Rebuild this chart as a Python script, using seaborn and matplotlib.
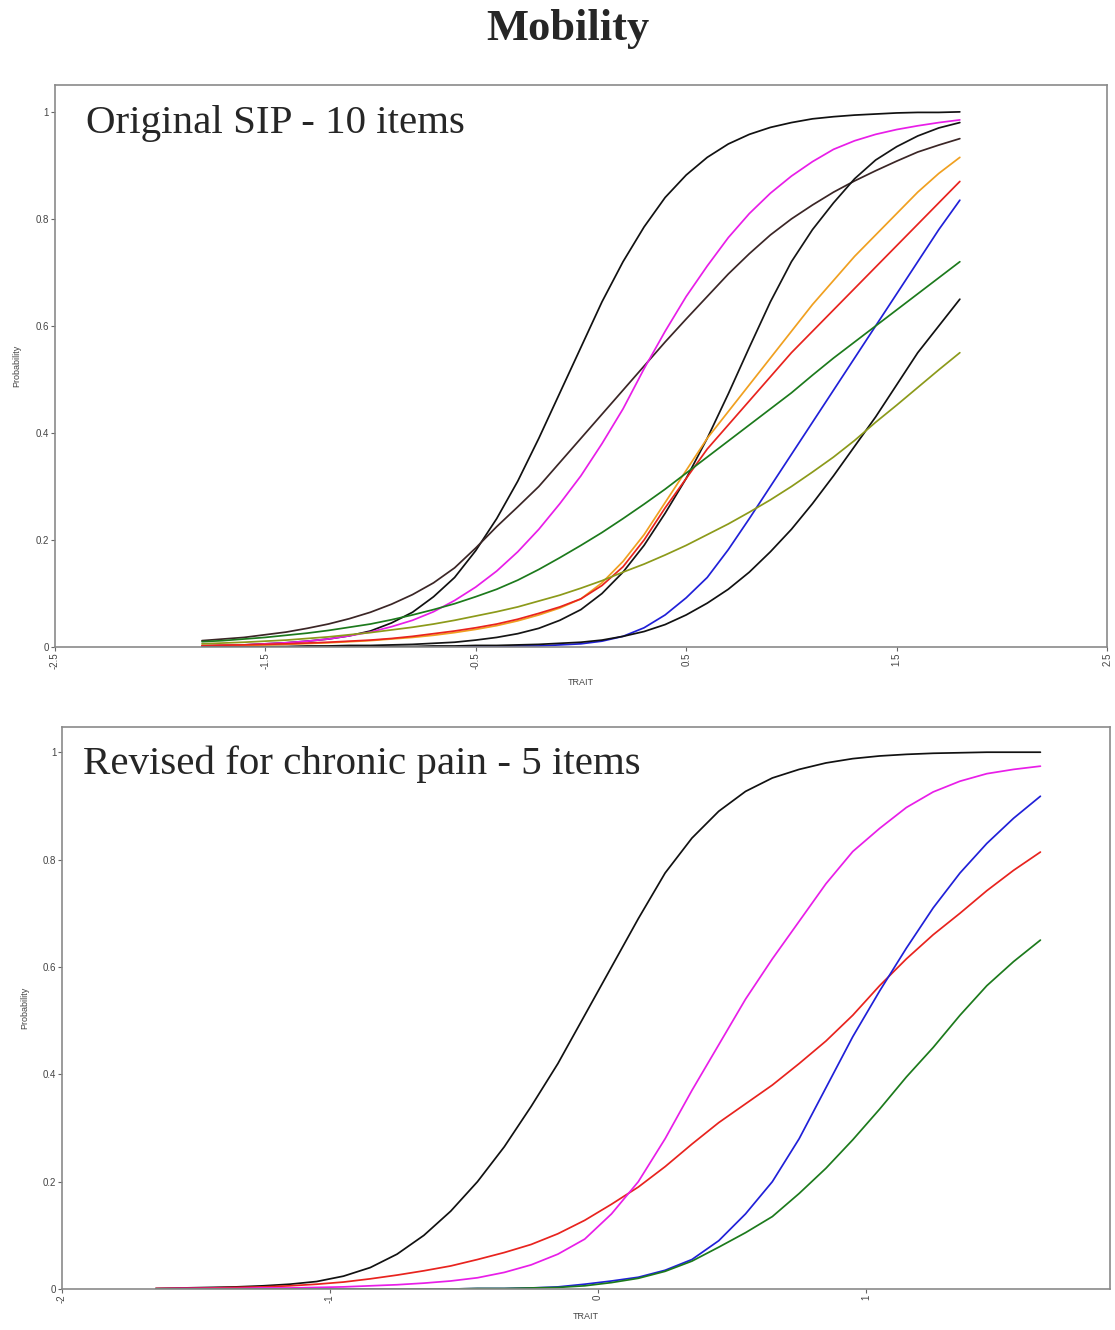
import numpy as np
import pandas as pd
import matplotlib
matplotlib.use("Agg")
import matplotlib.pyplot as plt
import seaborn as sns

# --- Top panel: Original SIP - 10 items ---
trait_top = [-1.8, -1.7, -1.6, -1.5, -1.4, -1.3, -1.2, -1.1, -1.0, -0.9,
             -0.8, -0.7, -0.6, -0.5, -0.4, -0.3, -0.2, -0.1, 0.0, 0.1,
             0.2, 0.3, 0.4, 0.5, 0.6, 0.7, 0.8, 0.9, 1.0, 1.1,
             1.2, 1.3, 1.4, 1.5, 1.6, 1.7, 1.8]
top_black_a = [.002, .003, .004, .006, .008, .011, .015, .021, .03, .045,
               .065, .094, .13, .18, .24, .31, .39, .475, .56, .645,
               .72, .785, .84, .882, .915, .94, .958, .971, .98, .987,
               .991, .994, .996, .998, .999, .999, 1.0]
top_brown = [.012, .015, .018, .023, .028, .035, .043, .053, .065, .08,
             .098, .12, .148, .185, .225, .262, .30, .345, .39, .435,
             .48, .525, .57, .613, .655, .697, .735, .77, .80, .826,
             .85, .871, .89, .908, .925, .938, .95]
top_magenta = [.002, .003, .004, .006, .008, .011, .015, .021, .028, .038,
               .05, .066, .087, .112, .142, .178, .22, .268, .32, .38,
               .445, .52, .59, .655, .712, .765, .81, .848, .88, .907,
               .93, .946, .958, .967, .974, .98, .985]
top_black_c = [.001, .001, .001, .001, .001, .002, .002, .003, .003, .004,
               .005, .007, .009, .013, .018, .025, .035, .05, .07, .10,
               .14, .19, .25, .315, .39, .473, .56, .645, .72, .78,
               .83, .875, .91, .935, .955, .97, .98]
top_orange = [.002, .0025, .003, .004, .005, .0065, .008, .01, .012, .015,
              .018, .022, .027, .033, .04, .049, .06, .073, .09, .12,
              .16, .21, .27, .33, .39, .44, .49, .54, .59, .64,
              .685, .73, .77, .81, .85, .885, .915]
top_red = [.003, .0035, .004, .005, .006, .0075, .009, .011, .013, .016,
           .02, .025, .03, .036, .043, .052, .063, .075, .09, .115,
           .15, .20, .26, .315, .37, .415, .46, .505, .55, .59,
           .63, .67, .71, .75, .79, .83, .87]
top_blue = [0, 0, 0, 0, 0, 0, 0, 0, 0, 0,
            0, 0, 0, .001, .001, .002, .002, .004, .006, .011,
            .02, .036, .06, .092, .13, .182, .24, .30, .36, .42,
            .48, .54, .60, .66, .72, .78, .835]
top_green = [.01, .012, .015, .018, .022, .026, .031, .037, .043, .051,
             .06, .07, .081, .094, .108, .125, .145, .167, .19, .214,
             .24, .267, .295, .325, .355, .385, .415, .445, .475, .508,
             .54, .57, .60, .63, .66, .69, .72]
top_black_e = [0, 0, 0, 0, 0, 0, .001, .001, .001, .001,
               .001, .002, .002, .003, .003, .004, .005, .007, .009, .013,
               .02, .029, .042, .06, .082, .108, .14, .178, .22, .268,
               .32, .375, .43, .49, .55, .60, .65]
top_olive = [.006, .0075, .009, .011, .013, .016, .019, .023, .027, .032,
             .037, .043, .05, .058, .066, .075, .086, .097, .11, .124,
             .14, .155, .172, .19, .21, .23, .252, .275, .30, .327,
             .355, .386, .42, .452, .485, .518, .55]

# --- Bottom panel: Revised for chronic pain - 5 items ---
trait_bot = [-1.65, -1.55, -1.45, -1.35, -1.25, -1.15, -1.05, -0.95, -0.85, -0.75,
             -0.65, -0.55, -0.45, -0.35, -0.25, -0.15, -0.05, 0.05, 0.15, 0.25,
             0.35, 0.45, 0.55, 0.65, 0.75, 0.85, 0.95, 1.05, 1.15, 1.25,
             1.35, 1.45, 1.55, 1.65]
bot_black = [.001, .002, .003, .004, .006, .009, .014, .024, .04, .065,
             .10, .145, .20, .265, .34, .42, .51, .60, .69, .775,
             .84, .89, .927, .952, .968, .98, .988, .993, .996, .998,
             .999, 1.0, 1.0, 1.0]
bot_red = [.001, .0015, .002, .003, .004, .006, .009, .013, .019, .026,
           .034, .043, .055, .068, .083, .103, .128, .158, .19, .228,
           .27, .31, .345, .38, .42, .462, .51, .565, .615, .66,
           .70, .742, .78, .814]
bot_magenta = [.0005, .001, .001, .001, .002, .002, .003, .004, .006, .008,
               .011, .015, .021, .031, .045, .065, .093, .14, .20, .28,
               .37, .455, .54, .615, .685, .755, .815, .858, .897, .926,
               .946, .96, .968, .974]
bot_blue = [0, 0, 0, 0, 0, 0, 0, 0, 0, 0,
            0, 0, .001, .001, .002, .004, .009, .015, .022, .035,
            .055, .09, .14, .20, .28, .375, .47, .555, .635, .71,
            .775, .83, .877, .918]
bot_green = [0, 0, 0, 0, 0, 0, 0, 0, 0, 0,
             0, 0, .001, .001, .002, .003, .006, .012, .02, .033,
             .052, .078, .105, .135, .178, .225, .278, .335, .395, .45,
             .51, .565, .61, .65]

top_items = {
    "black_a": top_black_a, "brown": top_brown, "magenta": top_magenta,
    "black_c": top_black_c, "orange": top_orange, "red": top_red,
    "blue": top_blue, "green": top_green, "black_e": top_black_e, "olive": top_olive,
}
top_colors = {
    "black_a": "#111111", "brown": "#3b2626", "magenta": "#e81ee8",
    "black_c": "#151515", "orange": "#f0a020", "red": "#e8231e",
    "blue": "#2020d8", "green": "#1c7a1c", "black_e": "#111111", "olive": "#8c9a1a",
}
bot_items = {
    "black": bot_black, "red": bot_red, "magenta": bot_magenta,
    "blue": bot_blue, "green": bot_green,
}
bot_colors = {
    "black": "#111111", "red": "#e8231e", "magenta": "#e81ee8",
    "blue": "#2020d8", "green": "#1c7a1c",
}

df_top = pd.concat([pd.DataFrame({"trait": trait_top, "prob": v, "item": k})
                    for k, v in top_items.items()], ignore_index=True)
df_bot = pd.concat([pd.DataFrame({"trait": trait_bot, "prob": v, "item": k})
                    for k, v in bot_items.items()], ignore_index=True)

sns.set_theme(style="white")
plt.rcParams['font.family'] = ['Liberation Sans', 'DejaVu Sans']

fig = plt.figure(figsize=(11.15, 13.3), dpi=100)
ax1 = fig.add_axes([0.049, 0.5135, 0.944, 0.4225])
ax2 = fig.add_axes([0.0556, 0.0308, 0.94, 0.4226])

sns.lineplot(data=df_top, x="trait", y="prob", hue="item", palette=top_colors,
             estimator=None, sort=False, legend=False, linewidth=1.25, ax=ax1)
sns.lineplot(data=df_bot, x="trait", y="prob", hue="item", palette=bot_colors,
             estimator=None, sort=False, legend=False, linewidth=1.25, ax=ax2)


def style_axes(ax, xlim, xticks, xlabels, ylim):
    ax.set_xlim(*xlim)
    ax.set_ylim(*ylim)
    ax.set_xticks(xticks)
    ax.set_xticklabels(xlabels, rotation=90, fontsize=7, color="#444444")
    ax.set_yticks([0, 0.2, 0.4, 0.6, 0.8, 1.0])
    ax.set_yticklabels(["0", "0.2", "0.4", "0.6", "0.8", "1"], fontsize=7, color="#444444")
    ax.tick_params(axis="both", direction="out", length=3, width=0.8, color="#666666",
                   pad=1, bottom=True, left=True)
    for s in ax.spines.values():
        s.set_color("#8a8a8a")
        s.set_linewidth(1.2)
    ax.set_xlabel("TRAIT", fontsize=6.5, color="#444444", labelpad=6)
    ax.set_ylabel("Probability", fontsize=6.5, color="#444444", labelpad=10)


style_axes(ax1, (-2.5, 2.5), [-2.5, -1.5, -0.5, 0.5, 1.5, 2.5],
           ["-2.5", "-1.5", "-0.5", "0.5", "1.5", "2.5"], (0, 1.05))
style_axes(ax2, (-2.0, 1.91), [-2, -1, 0, 1], ["-2", "-1", "0", "1"], (0, 1.047))

fig.text(0.509, 0.978, "Mobility", ha="center", va="center", fontsize=32,
         fontweight="bold", family=["Liberation Serif", "DejaVu Serif"])
ax1.text(0.03, 0.965, "Original SIP - 10 items", transform=ax1.transAxes,
         ha="left", va="top", fontsize=29.5, family=["Liberation Serif", "DejaVu Serif"])
ax2.text(0.02, 0.967, "Revised for chronic pain - 5 items", transform=ax2.transAxes,
         ha="left", va="top", fontsize=29.5, family=["Liberation Serif", "DejaVu Serif"])

fig.savefig("out.png", dpi=100)
